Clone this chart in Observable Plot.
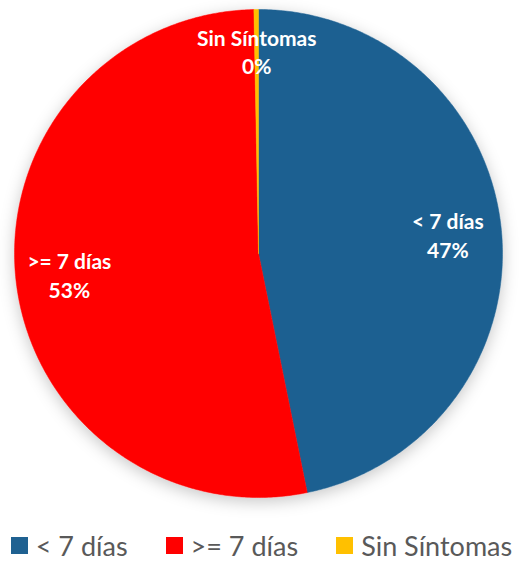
<!DOCTYPE html>
<html><head><meta charset="utf-8">
<script src="https://cdn.jsdelivr.net/npm/d3@7"></script>
<script src="https://cdn.jsdelivr.net/npm/@observablehq/plot@0.6"></script>
<style>
body{margin:0;background:#fff;width:529px;height:564px;overflow:hidden;font-family:Lato,"Open Sans",sans-serif}
#legend{display:flex;justify-content:center;align-items:center;gap:38px;margin-top:23px;margin-left:-6px;font-size:27px;line-height:25px;color:#595959;white-space:nowrap}
#legend .it{display:flex;align-items:center;gap:8px}
#legend .sw{width:17px;height:17px;display:inline-block}
</style></head><body>
<div id="chart"></div>
<div id="legend"></div>
<script>
const categories = ["< 7 días", ">= 7 días", "Sin Síntomas"];
const values = [46.8, 52.9, 0.3];
const pctLabels = ["47%", "53%", "0%"];
const colors = ["#1F6191", "#FF0000", "#FFC000"];

const table = categories.map((c, i) => ({category: c, value: values[i], pct: pctLabels[i]}));
const arcs = d3.pie().sort(null).value(d => d.value)(table);

// polygon points for each slice (unit circle, angle clockwise from top)
const pts = [];
arcs.forEach(a => {
  const c = a.data.category;
  pts.push({category: c, x: 0, y: 0});
  const n = Math.max(2, Math.ceil((a.endAngle - a.startAngle) / 0.01));
  for (let k = 0; k <= n; k++) {
    const t = a.startAngle + (a.endAngle - a.startAngle) * k / n;
    pts.push({category: c, x: Math.sin(t), y: Math.cos(t)});
  }
  pts.push({category: c, x: 0, y: 0});
});
const labelR = 0.78;
const lbl = arcs.map(a => {
  const m = (a.startAngle + a.endAngle) / 2;
  const small = a.data.category === "Sin Síntomas";
  return {category: a.data.category, x: labelR * Math.sin(m), y: (small ? 0.83 : labelR) * Math.cos(m),
          text: a.data.category + "\n" + a.data.pct};
});

const W = 529, H = 510, R = 244, cx = 258, cy = 253;
const plot = Plot.plot({
  width: W, height: H,
  marginLeft: cx - R, marginRight: W - cx - R, marginTop: cy - R, marginBottom: H - cy - R,
  x: {domain: [-1, 1], axis: null},
  y: {domain: [-1, 1], axis: null},
  color: {domain: categories, range: colors},
  style: {background: "transparent", overflow: "visible"},
  marks: [
    Plot.line(pts, {x: "x", y: "y", z: "category", fill: "category", stroke: "category", strokeWidth: 0.5, curve: "linear"}),
    Plot.text(lbl, {x: "x", y: "y", text: "text", fill: "white", fontSize: 21, fontWeight: "bold", lineHeight: 1.35, fontFamily: "Lato, 'Open Sans', sans-serif"})
  ]
});
const ns = "http://www.w3.org/2000/svg";
const defs = document.createElementNS(ns, "defs");
defs.innerHTML = '<filter id="sh" x="-10%" y="-10%" width="120%" height="125%"><feDropShadow dx="0" dy="4" stdDeviation="8" flood-color="#000" flood-opacity="0.22"/></filter>';
plot.insertBefore(defs, plot.firstChild);
const lineG = plot.querySelector('g[aria-label="line"]');
if (lineG) lineG.setAttribute("filter", "url(#sh)");
document.getElementById("chart").appendChild(plot);

const leg = document.getElementById("legend");
categories.forEach((c, i) => {
  const it = document.createElement("div"); it.className = "it";
  const sw = document.createElement("span"); sw.className = "sw"; sw.style.background = colors[i];
  const tx = document.createElement("span"); tx.textContent = c;
  it.appendChild(sw); it.appendChild(tx); leg.appendChild(it);
});
</script></body></html>
